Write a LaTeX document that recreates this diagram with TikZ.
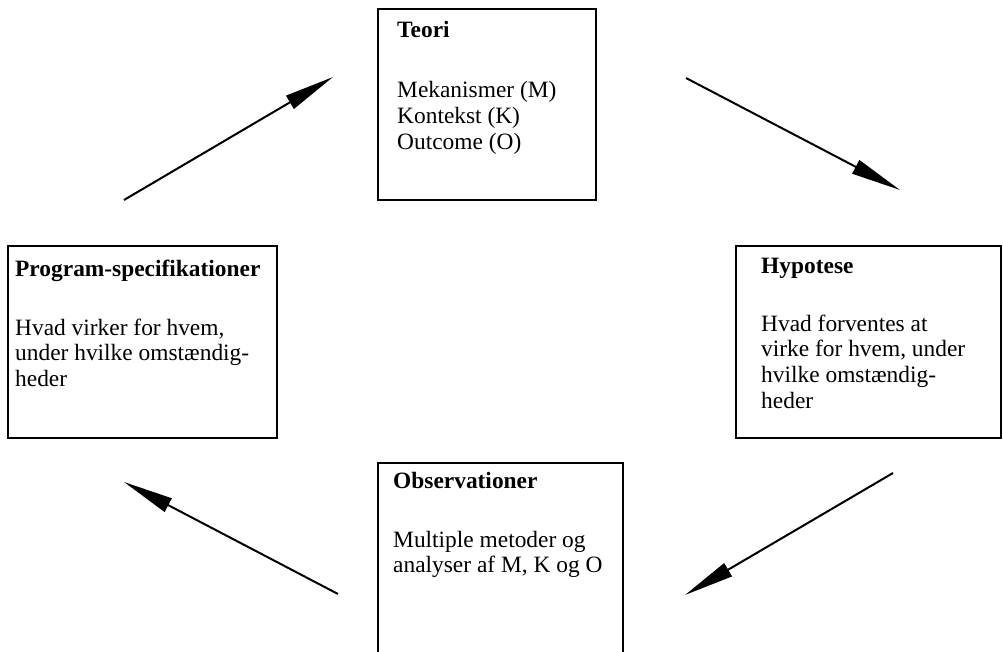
\documentclass[tikz,border=0pt]{standalone}
\usepackage{fontspec}
\setmainfont{Liberation Serif}
\usetikzlibrary{arrows.meta}
\begin{document}
\begin{tikzpicture}[x=1pt,y=-1pt,
  box/.style={draw, line width=1.8pt, rectangle, anchor=north west, inner sep=0pt},
  txt/.style={anchor=north west, inner sep=0pt, align=left, font=\fontsize{23.4}{25.8}\selectfont},
  flow/.style={line width=2pt, -{Triangle[length=50pt,width=15pt]}}]
\useasboundingbox (0,0) rectangle (1003,652);
\clip (0,0) rectangle (1003,652);
% boxes
\node[box, minimum width=218pt, minimum height=191pt] (teori) at (377,8) {};
\node[box, minimum width=269pt, minimum height=192pt] (prog) at (7,245) {};
\node[box, minimum width=265pt, minimum height=192pt] (hyp) at (735,245) {};
\node[box, minimum width=245pt, minimum height=260pt] (obs) at (377,462) {};
% texts
\node[txt] (teorit) at ([xshift=20pt,yshift=-11pt]teori.north west)
  {\rule{0pt}{18pt}\textbf{Teori}\\[35pt]Mekanismer (M)\\Kontekst (K)\\Outcome (O)};
\node[txt] (progt) at ([xshift=8pt,yshift=-13pt]prog.north west)
  {\rule{0pt}{18pt}\textbf{Program-specifikationer}\\[33pt]Hvad virker for hvem,\\under hvilke omstændig-\\heder};
\node[txt] (hypt) at ([xshift=26pt,yshift=-10pt]hyp.north west)
  {\rule{0pt}{18pt}\textbf{Hypotese}\\[32pt]Hvad forventes at\\virke for hvem, under\\hvilke omstændig-\\heder};
\node[txt] (obst) at ([xshift=16pt,yshift=-8pt]obs.north west)
  {\rule{0pt}{18pt}\textbf{Observationer}\\[33pt]Multiple metoder og\\analyser af M, K og O};
% arrows
\coordinate (a1s) at (124,200); \coordinate (a1e) at (333,77);
\coordinate (a2s) at (686,78);  \coordinate (a2e) at (900,190);
\coordinate (a3s) at (893,473); \coordinate (a3e) at (685,595);
\coordinate (a4s) at (338,594); \coordinate (a4e) at (124,482);
\draw[flow] (a1s) -- (a1e);
\draw[flow] (a2s) -- (a2e);
\draw[flow] (a3s) -- (a3e);
\draw[flow] (a4s) -- (a4e);
\end{tikzpicture}
\end{document}
